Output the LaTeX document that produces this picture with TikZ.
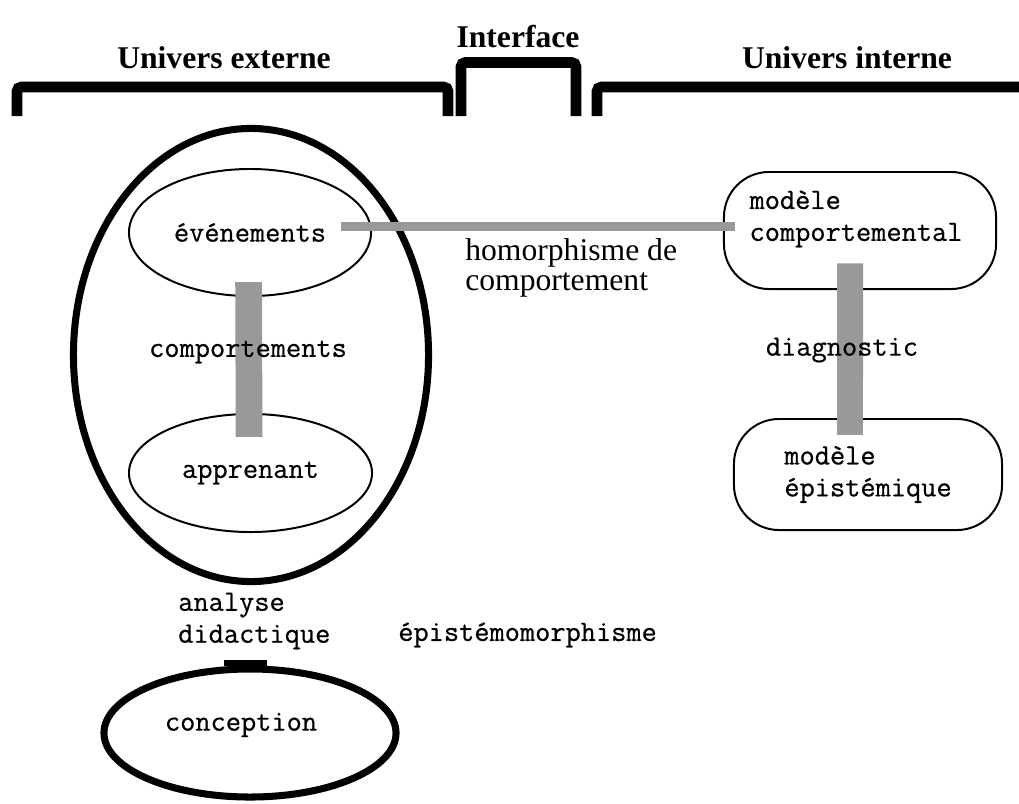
\documentclass[tikz,border=0pt]{standalone}
\usepackage{fontspec}
\setmainfont{Liberation Serif}
\setmonofont{Latin Modern Mono}[FakeBold = 0.6]
\usetikzlibrary{shapes.geometric}

\begin{document}
\begin{tikzpicture}[x = 0.025cm, y = -0.025cm,
    titre/.style = {font = \fontsize{22.5}{24}\selectfont\bfseries, inner sep = 0},
    etiq/.style = {font = \fontsize{21}{22.7}\selectfont\ttfamily, inner sep = 0, align = left},
    texte/.style = {font = \fontsize{22.5}{21.5}\selectfont, inner sep = 0, align = left},
    accolade/.style = {line width = 7.5pt, rounded corners = 3pt},
    bulle/.style = {draw, ellipse, inner sep = 0, line width = 1.4pt, etiq},
    grosse/.style = {draw, ellipse, inner sep = 0, line width = 5pt, etiq},
    modele/.style = {draw, rectangle, rounded corners = 32pt, inner sep = 0, line width = 1.4pt, etiq},
    lien/.style = {draw = black!40, line cap = butt}]

    \useasboundingbox (0,0) rectangle (1019,803);

    % les trois accolades du haut
    \draw[accolade] (17,116) -- (17,87) -- (448,87) -- (448,116);
    \draw[accolade] (461,116) -- (461,62.5) -- (576,62.5) -- (576,116);
    \draw[accolade] (597,116) -- (597,87) -- (1019,87);

    \node[titre] (ext) at (224,58) {Univers externe};
    \node[titre] (inter) at (518,37) {Interface};
    \node[titre] (int) at (847,58) {Univers interne};

    % univers externe
    \node[grosse, minimum width = 8.875cm, minimum height = 11.325cm] (univ) at (251,355) {};
    \node[bulle, minimum width = 6.05cm, minimum height = 3.175cm] (evt) at (250,232.5) {événements};
    \node[bulle, minimum width = 6.075cm, minimum height = 2.95cm] (app) at (250.5,473) {apprenant};
    \node[grosse, minimum width = 7.3cm, minimum height = 3.2cm] (conc) at (250,733) {};
    \node[etiq] (conctxt) at (241,725) {conception};

    % univers interne
    \node[modele, minimum width = 6.8cm, minimum height = 2.925cm] (modc) at (860,230.5) {};
    \node[etiq] (modctxt) at (856,219) {modèle\\comportemental};
    \node[modele, minimum width = 6.7cm, minimum height = 2.775cm] (mode) at (868,474.5) {modèle\\épistémique};

    % liens
    \draw[lien, line width = 6.4pt] ([xshift = -22pt, yshift = 4pt]evt.east) coordinate (h) -- ([xshift = 8.5pt]h -| modc.west);
    \draw[lien, line width = 19pt] ([xshift = -1pt, yshift = 10.6pt]evt.south) -- ([xshift = -1pt, yshift = -17pt]app.north);
    \draw[lien, line width = 18.4pt] ([xshift = -7pt, yshift = 19pt]modc.south) -- ([xshift = -12.8pt, yshift = -12pt]mode.north);
    \draw[line width = 4.3pt] ([xshift = -18.4pt, yshift = 1.8pt]conc.north) -- ([xshift = 12pt, yshift = 1.8pt]conc.north);

    \node[etiq] (comp) at (248,352) {comportements};
    \node[etiq] (diag) at (842,350) {diagnostic};
    \node[texte, anchor = west] (homo) at (465,268) {homorphisme de\\comportement};
    \node[etiq, anchor = west] (ana) at (178,621) {analyse\\didactique};
    \node[etiq, anchor = west] (epi) at (398,635) {épistémomorphisme};
\end{tikzpicture}
\end{document}
